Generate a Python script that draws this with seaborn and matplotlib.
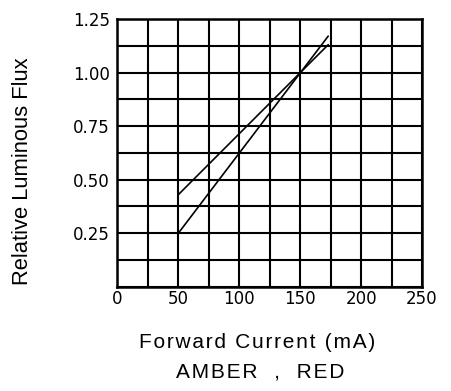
import matplotlib
matplotlib.use("Agg")
import matplotlib.pyplot as plt
import seaborn as sns
import pandas as pd
from matplotlib.ticker import MultipleLocator

# Data
current_ma = [50, 173]
flux_line_a = [0.43, 1.13]
flux_line_b = [0.25, 1.17]
series_names = ["A", "B"]

x_ticks = [0, 50, 100, 150, 200, 250]
y_ticks = [0.25, 0.50, 0.75, 1.00, 1.25]
y_tick_labels = ["0.25", "0.50", "0.75", "1.00", "1.25"]

df = pd.DataFrame({
    "current": current_ma * 2,
    "flux": flux_line_a + flux_line_b,
    "series": [series_names[0]] * len(current_ma) + [series_names[1]] * len(current_ma),
})

sns.set_theme(style="white")
plt.rcParams['font.family'] = ['Liberation Sans', 'DejaVu Sans']

fig = plt.figure(figsize=(4.51, 3.91), dpi=100)
ax = fig.add_axes([0.2605, 0.2668, 0.6752, 0.6846])

sns.lineplot(data=df, x="current", y="flux", hue="series",
             palette=["black", "black"], legend=False, ax=ax, linewidth=1.2)

ax.set_xlim(0, 250)
ax.set_ylim(0, 1.25)
ax.xaxis.set_minor_locator(MultipleLocator(25))
ax.yaxis.set_minor_locator(MultipleLocator(0.125))
ax.set_xticks(x_ticks)
ax.set_xticklabels([str(v) for v in x_ticks], family="DejaVu Sans", fontsize=12)
ax.set_yticks(y_ticks)
ax.set_yticklabels(y_tick_labels, family="DejaVu Sans", fontsize=12)
ax.tick_params(axis="x", which="both", length=0, pad=2.5, colors="black")
ax.tick_params(axis="y", which="both", length=0, pad=5.5, colors="black")
ax.grid(True, which="both", color="black", linewidth=1.5)
ax.set_axisbelow(True)
for s in ax.spines.values():
    s.set_color("black")
    s.set_linewidth(1.8)

def spaced(t):
    return "\u200a".join(t)

ax.set_xlabel("")
ax.set_ylabel("")
fig.text(0.050, 0.563, "Relative Luminous Flux", rotation=90, ha="center", va="center",
         fontsize=15.8, color="black")
fig.text(0.571, 0.110, spaced("Forward Current (mA)"), ha="center", va="baseline",
         fontsize=15, color="black")
fig.text(0.5765, 0.035, spaced("AMBER  ,  RED"), ha="center", va="baseline",
         fontsize=15, color="black")

fig.savefig("out.png", dpi=100)
